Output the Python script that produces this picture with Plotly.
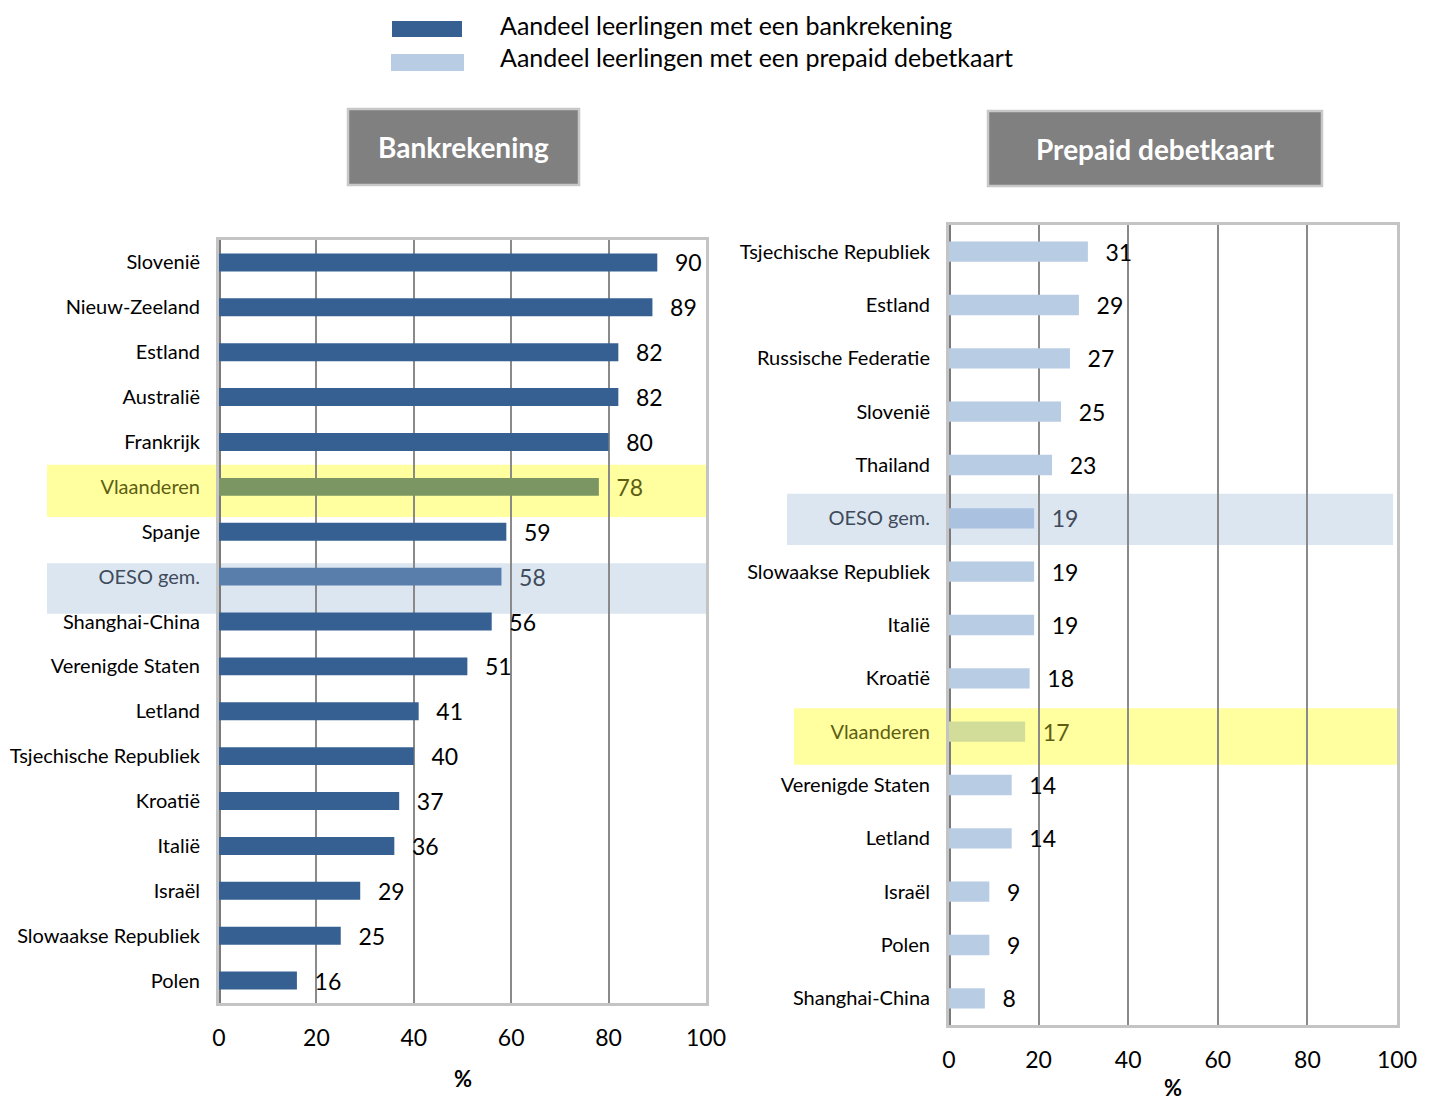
import plotly.graph_objects as go
from plotly.subplots import make_subplots

# ---------------- data ----------------
bank_categories = ["Slovenië", "Nieuw-Zeeland", "Estland", "Australië", "Frankrijk",
                   "Vlaanderen", "Spanje", "OESO gem.", "Shanghai-China", "Verenigde Staten",
                   "Letland", "Tsjechische Republiek", "Kroatië", "Italië", "Israël",
                   "Slowaakse Republiek", "Polen"]
bank_values = [90, 89, 82, 82, 80, 78, 59, 58, 56, 51, 41, 40, 37, 36, 29, 25, 16]

prepaid_categories = ["Tsjechische Republiek", "Estland", "Russische Federatie", "Slovenië",
                      "Thailand", "OESO gem.", "Slowaakse Republiek", "Italië", "Kroatië",
                      "Vlaanderen", "Verenigde Staten", "Letland", "Israël", "Polen",
                      "Shanghai-China"]
prepaid_values = [31, 29, 27, 25, 23, 19, 19, 19, 18, 17, 14, 14, 9, 9, 8]

x_ticks = [0, 20, 40, 60, 80, 100]
legend_labels = ["Aandeel leerlingen met een bankrekening",
                 "Aandeel leerlingen met een prepaid debetkaart"]
panel_titles = ["Bankrekening", "Prepaid debetkaart"]
axis_title = "%"

# ---------------- styling ----------------
W, H = 1437, 1100
FONT = "Lato, 'Open Sans', sans-serif"
BANK = "#366092"
PREPAID = "#b8cce4"
HILITE = "Vlaanderen"
AVG = "OESO gem."
BANK_SPECIAL = {HILITE: "#7b9663", AVG: "#5a7eab"}
PREP_SPECIAL = {HILITE: "#d1dd99", AVG: "#aac2e0"}
TXT_SPECIAL = {HILITE: "#5e5e12", AVG: "#3f4b5a"}
YELLOW_BAND = "#ffffa0"
BLUE_BAND = "#dce6f1"
LABEL_PREFIX = "\u00a0\u00a0\u2009"


def px_x(v):
    return v / W


def px_y(v):
    return 1 - v / H


fig = make_subplots(rows=1, cols=2)

# bars
fig.add_trace(go.Bar(
    x=bank_values, y=bank_categories, orientation="h",
    marker=dict(color=[BANK_SPECIAL.get(c, BANK) for c in bank_categories], line=dict(width=0)),
    width=0.4,
    text=bank_values, texttemplate=LABEL_PREFIX + "%{text}", textposition="outside",
    constraintext="none",
    textfont=dict(size=23, color=[TXT_SPECIAL.get(c, "black") for c in bank_categories], family=FONT),
    cliponaxis=False, showlegend=False, name=legend_labels[0]), row=1, col=1)

fig.add_trace(go.Bar(
    x=prepaid_values, y=prepaid_categories, orientation="h",
    marker=dict(color=[PREP_SPECIAL.get(c, PREPAID) for c in prepaid_categories], line=dict(width=0)),
    width=0.38,
    text=prepaid_values, texttemplate=LABEL_PREFIX + "%{text}", textposition="outside",
    constraintext="none",
    textfont=dict(size=23, color=[TXT_SPECIAL.get(c, "black") for c in prepaid_categories], family=FONT),
    cliponaxis=False, showlegend=False, name=legend_labels[1]), row=1, col=2)


def ticktext(cats):
    out = []
    for c in cats:
        if c in TXT_SPECIAL:
            out.append('<span style="color:%s">%s</span>' % (TXT_SPECIAL[c], c))
        else:
            out.append(c)
    return out


common_x = dict(range=[0, 100], tickvals=x_ticks, showgrid=True, gridcolor="#8a8a8a", gridwidth=1.5,
                showline=True, mirror=True, linecolor="#c4c4c4", linewidth=3,
                zeroline=True, zerolinecolor="#7a7a7a", zerolinewidth=2.5,
                ticks="outside", ticklen=0, ticklabelstandoff=12, automargin=False,
                tickfont=dict(size=23, family=FONT, color="black"), fixedrange=True)
common_y = dict(autorange="reversed", showline=True, mirror=True, linecolor="#c4c4c4", linewidth=3,
                ticks="outside", ticklen=0, ticklabelstandoff=12, automargin=False,
                tickfont=dict(size=20, family=FONT, color="black"), showgrid=False, fixedrange=True)

fig.update_xaxes(domain=[px_x(219), px_x(706)], **common_x, row=1, col=1)
fig.update_xaxes(domain=[px_x(949), px_x(1397)], **common_x, row=1, col=2)
fig.update_yaxes(domain=[px_y(1003), px_y(240)], tickmode="array", tickvals=bank_categories,
                 ticktext=ticktext(bank_categories), **common_y, row=1, col=1)
fig.update_yaxes(domain=[px_y(1025), px_y(225)], tickmode="array", tickvals=prepaid_categories,
                 ticktext=ticktext(prepaid_categories), **common_y, row=1, col=2)

shapes = []
# highlight bands (category-anchored)
bands = [
    ("y", bank_categories.index(HILITE), -0.49, 0.67, 47, 706, YELLOW_BAND),
    ("y", bank_categories.index(AVG), -0.30, 0.83, 47, 706, BLUE_BAND),
    ("y2", prepaid_categories.index(AVG), -0.46, 0.50, 787, 1393, BLUE_BAND),
    ("y2", prepaid_categories.index(HILITE), -0.44, 0.62, 794, 1398, YELLOW_BAND),
]
for yref, idx, lo, hi, xa, xb, col in bands:
    shapes.append(dict(type="rect", xref="paper", yref=yref, x0=px_x(xa), x1=px_x(xb),
                       y0=idx + lo, y1=idx + hi, fillcolor=col, line=dict(width=0), layer="below"))

# panel title boxes
boxes = [(348, 579, 109, 185), (988, 1322, 111, 186)]
annotations = []
for (x0, x1, y0, y1), t in zip(boxes, panel_titles):
    shapes.append(dict(type="rect", xref="paper", yref="paper", x0=px_x(x0), x1=px_x(x1),
                       y0=px_y(y1), y1=px_y(y0), fillcolor="#808080",
                       line=dict(color="#c8c8c8", width=2.5)))
    annotations.append(dict(xref="paper", yref="paper", x=px_x((x0 + x1) / 2), y=px_y((y0 + y1) / 2),
                            text="<b>%s</b>" % t, showarrow=False, xanchor="center", yanchor="middle",
                            font=dict(size=28, color="white", family=FONT)))

# legend swatches + text
leg = [(392, 462, 21, 37, BANK, 25), (391, 464, 54, 71, PREPAID, 57)]
for (x0, x1, y0, y1, col, ty), lab in zip(leg, legend_labels):
    shapes.append(dict(type="rect", xref="paper", yref="paper", x0=px_x(x0), x1=px_x(x1),
                       y0=px_y(y1), y1=px_y(y0), fillcolor=col, line=dict(width=0)))
    annotations.append(dict(xref="paper", yref="paper", x=px_x(498), y=px_y(ty), text=lab,
                            showarrow=False, xanchor="left", yanchor="middle",
                            font=dict(size=25, color="black", family=FONT)))

# axis titles
annotations.append(dict(xref="x domain", yref="paper", x=0.5, y=px_y(1078), text="<b>%s</b>" % axis_title,
                        showarrow=False, xanchor="center", yanchor="middle",
                        font=dict(size=22, color="black", family=FONT)))
annotations.append(dict(xref="x2 domain", yref="paper", x=0.5, y=px_y(1087), text="<b>%s</b>" % axis_title,
                        showarrow=False, xanchor="center", yanchor="middle",
                        font=dict(size=22, color="black", family=FONT)))

fig.update_layout(width=W, height=H, margin=dict(l=0, r=0, t=0, b=0, autoexpand=False),
                  template="plotly_white",
                  paper_bgcolor="white", plot_bgcolor="rgba(0,0,0,0)",
                  font=dict(family=FONT), shapes=shapes, annotations=annotations,
                  bargap=0.6)

fig.write_html("out.html", config={"displayModeBar": False},
               post_script="document.body.style.margin='0';")
